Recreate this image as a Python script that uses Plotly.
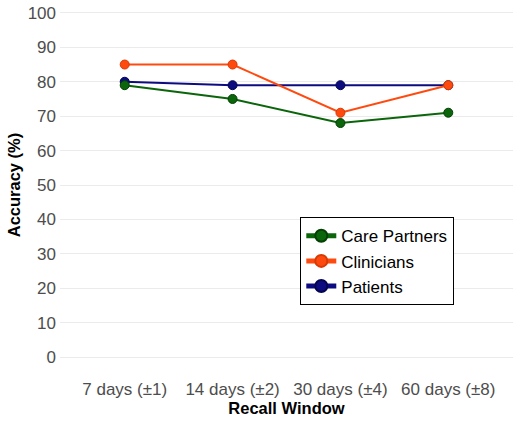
import plotly.graph_objects as go

categories = ["7 days (±1)", "14 days (±2)", "30 days (±4)", "60 days (±8)"]
care_partners = [79, 75, 68, 71]
clinicians = [85, 85, 71, 79]
patients = [80, 79, 79, 79]
y_ticks = [0, 10, 20, 30, 40, 50, 60, 70, 80, 90, 100]

# drawn bottom-to-top; legend order via legendrank
series = [
    ("Patients", patients, "#0c0c80", "#05054f", 3),
    ("Care Partners", care_partners, "#0b650b", "#044004", 1),
    ("Clinicians", clinicians, "#ff4a0f", "#d83a05", 2),
]

fig = go.Figure()
for name, vals, col, edge, rank in series:
    fig.add_trace(go.Scatter(
        x=categories, y=vals, name=name, mode="lines+markers",
        legendrank=rank,
        line=dict(color=col, width=2),
        marker=dict(color=col, size=9, line=dict(color=edge, width=1)),
    ))

fig.update_layout(
    width=520, height=421,
    margin=dict(l=60, r=7, t=5, b=56, autoexpand=False),
    paper_bgcolor="white", plot_bgcolor="white",
    font=dict(family="Liberation Sans, Arial, sans-serif", size=17, color="#4d4d4d"),
    legend=dict(
        x=0.53, y=0.411, xanchor="left", yanchor="top",
        bordercolor="black", borderwidth=1.2, bgcolor="white",
        font=dict(size=17, color="black"),
        itemsizing="constant", tracegroupgap=0, traceorder="normal",
    ),
    xaxis=dict(
        type="category", range=[-0.6, 3.6], automargin=False,
        showgrid=False, zeroline=False, showline=False, ticks="",
        ticklabelstandoff=12,
        tickfont=dict(size=17, color="#4d4d4d"),
        title=dict(text="<b>Recall Window</b>", font=dict(size=16.5, color="black"), standoff=0),
    ),
    yaxis=dict(
        range=[-2.3, 102.3], tickvals=y_ticks, automargin=False,
        showgrid=True, gridcolor="#ebebeb", gridwidth=1,
        zeroline=False, showline=False, ticks="",
        ticklabelstandoff=3,
        tickfont=dict(size=17, color="#4d4d4d"),
        title=dict(text="<b>Accuracy (%)</b>", font=dict(size=16.5, color="black"), standoff=2),
    ),
    showlegend=True,
)

fig.write_html("out.html", config={"displayModeBar": False},
               post_script="document.body.style.margin='0';")
